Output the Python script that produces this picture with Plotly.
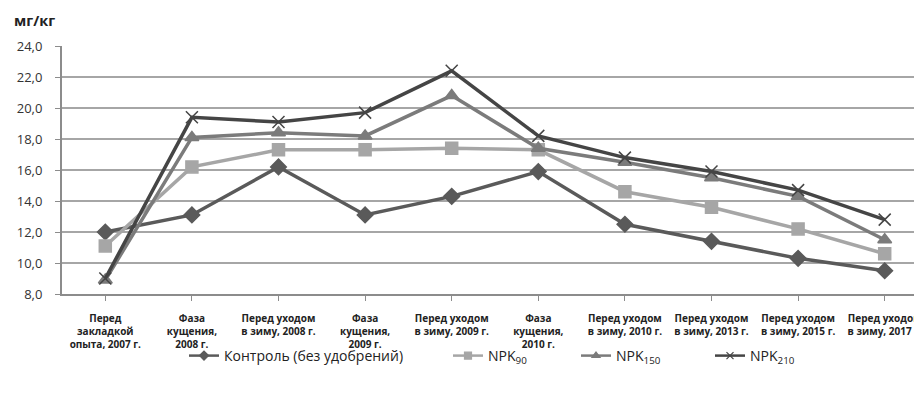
import plotly.graph_objects as go

categories = [
    "Перед<br>закладкой<br>опыта, 2007 г.",
    "Фаза<br>кущения,<br>2008 г.",
    "Перед уходом<br>в зиму, 2008 г.",
    "Фаза<br>кущения,<br>2009 г.",
    "Перед уходом<br>в зиму, 2009 г.",
    "Фаза<br>кущения,<br>2010 г.",
    "Перед уходом<br>в зиму, 2010 г.",
    "Перед уходом<br>в зиму, 2013 г.",
    "Перед уходом<br>в зиму, 2015 г.",
    "Перед уходом<br>в зиму, 2017 г.",
]
control = [12.0, 13.1, 16.2, 13.1, 14.3, 15.9, 12.5, 11.4, 10.3, 9.5]
npk90 = [11.1, 16.2, 17.3, 17.3, 17.4, 17.3, 14.6, 13.6, 12.2, 10.6]
npk150 = [8.9, 18.1, 18.4, 18.2, 20.8, 17.4, 16.5, 15.5, 14.3, 11.5]
npk210 = [9.0, 19.4, 19.1, 19.7, 22.4, 18.2, 16.8, 15.9, 14.7, 12.8]
y_ticks = [8, 10, 12, 14, 16, 18, 20, 22, 24]

FONT = "Open Sans"
W, H = 914, 394
OFF = 0  # body margin removed below
x = list(range(len(categories)))

series = [
    ("Контроль (без удобрений)", control, "#5a5a5a", "diamond", 12, 7),
    ("NPK<sub>90</sub>", npk90, "#a6a6a6", "square", 12, 7),
    ("NPK<sub>150</sub>", npk150, "#7b7b7b", "triangle-up", 12, 7),
    ("NPK<sub>210</sub>", npk210, "#454545", "x-thin", 12, 7),
]
legend_text_left = [226, 490, 618, 752]

fig = go.Figure()
for name, vals, color, sym, size, lsize in series:
    fig.add_trace(go.Scatter(
        x=x, y=vals, name=name, mode="lines+markers", showlegend=False,
        line=dict(color=color, width=3.5),
        marker=dict(symbol=sym, size=size, color=color,
                    line=dict(color=color, width=1.5)),
    ))
for i, (name, vals, color, sym, size, lsize) in enumerate(series):
    lg = "legend" if i == 0 else f"legend{i + 1}"
    fig.add_trace(go.Scatter(
        x=[None], y=[None], name=name, mode="lines+markers", legend=lg,
        line=dict(color=color, width=2.5),
        marker=dict(symbol=sym, size=lsize, color=color,
                    line=dict(color=color, width=1.2)),
    ))

legend_common = dict(orientation="h", xref="container", yref="container",
                     xanchor="left", yanchor="middle", y=1 - (356 - OFF) / H,
                     font=dict(size=14, color="#222222", family=FONT),
                     bgcolor="rgba(0,0,0,0)", borderwidth=0)
layout_legends = {}
for i, tx in enumerate(legend_text_left):
    key = "legend" if i == 0 else f"legend{i + 1}"
    layout_legends[key] = dict(legend_common, x=(tx - 42 - OFF) / W)

ML, MT, PH = 62 - OFF, 46 - OFF, 248
PW = W - ML
fig.update_layout(
    width=W, height=H,
    margin=dict(l=ML, r=0, t=MT, b=H - MT - PH, autoexpand=False),
    plot_bgcolor="white", paper_bgcolor="white",
    font=dict(family=FONT, color="#333333"),
    showlegend=True,
    **layout_legends,
)
fig.add_annotation(text="<b>мг/кг</b>", xref="paper", yref="paper",
                   x=(12 - OFF - ML) / PW, y=1 + (MT - (21 - OFF)) / PH,
                   xanchor="left", yanchor="middle",
                   showarrow=False, font=dict(size=14.5, color="#222222", family=FONT))

fig.update_xaxes(
    tickmode="array", tickvals=x, ticktext=[f"<b>{c}</b>" for c in categories],
    range=[-0.5, -0.5 + PW / 86.6], automargin=False,
    showgrid=False, zeroline=False, ticklabeloverflow="allow",
    showline=True, linecolor="#8c8c8c", linewidth=2,
    ticks="outside", ticklen=5, tickcolor="#8c8c8c", tickwidth=1,
    tickson="boundaries", ticklabelstandoff=9,
    tickfont=dict(size=10, color="#222222", family=FONT),
)
fig.update_yaxes(
    range=[8, 24], tickmode="array", tickvals=y_ticks, automargin=False,
    ticktext=[f"{v:.1f}".replace(".", ",") for v in y_ticks],
    showgrid=True, gridcolor="#a6a6a6", gridwidth=1.5,
    zeroline=False, showline=True, linecolor="#8c8c8c", linewidth=2,
    ticks="outside", ticklen=5, tickcolor="#8c8c8c", ticklabelstandoff=10,
    tickfont=dict(size=13, color="#333333", family=FONT),
)

fig.write_html(
    "out.html",
    config={"displayModeBar": False},
    post_script="document.body.style.margin='0';"
                "document.documentElement.style.overflow='hidden';",
)
